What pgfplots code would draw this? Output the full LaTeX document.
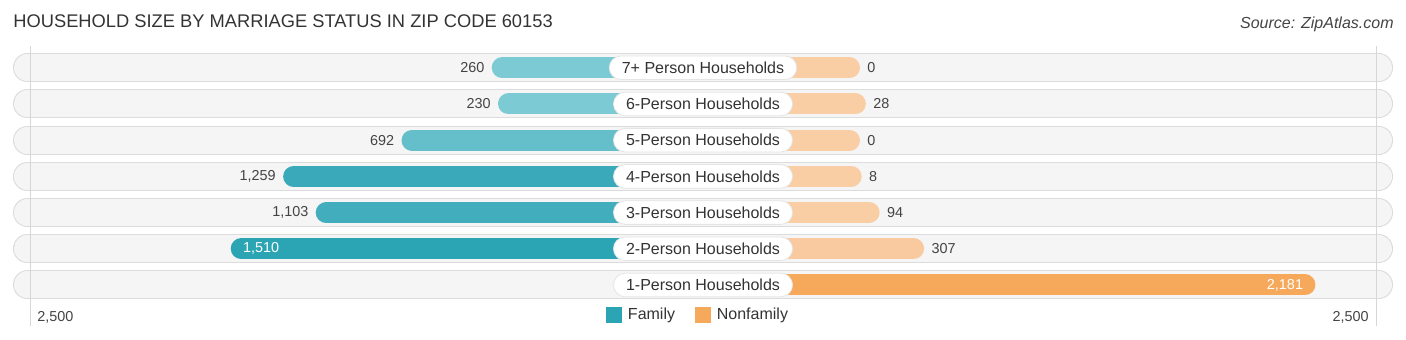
\documentclass[border=0pt]{standalone}
\usepackage{pgfplots}
\pgfplotsset{compat=1.18}
\usepackage{pgfplotstable}
\usepackage{fontspec}
\setmainfont{Liberation Sans}

\definecolor{fam0}{HTML}{7CCAD3}
\definecolor{fam1}{HTML}{7CCAD3}
\definecolor{fam2}{HTML}{64BFCA}
\definecolor{fam3}{HTML}{3AAABA}
\definecolor{fam4}{HTML}{42ADBC}
\definecolor{fam5}{HTML}{2BA4B4}
\definecolor{non0}{HTML}{F9CEA4}
\definecolor{non1}{HTML}{F9CEA4}
\definecolor{non2}{HTML}{F9CEA4}
\definecolor{non3}{HTML}{F9CEA4}
\definecolor{non4}{HTML}{F9CEA4}
\definecolor{non5}{HTML}{F9CAA0}
\definecolor{non6}{HTML}{F6A85B}
\definecolor{bgfill}{HTML}{F5F5F5}
\definecolor{bgedge}{HTML}{DCDCDC}
\definecolor{gridc}{HTML}{D6D6D6}
\definecolor{txt}{HTML}{333333}
\definecolor{vtxt}{HTML}{444444}

% i = row (0 = top), fam / nonfam = values
\pgfplotstableread{
i fam nonfam famlab nonlab
0 260 0 260 0
1 230 28 230 28
2 692 0 692 0
3 1259 8 1,259 8
4 1103 94 1,103 94
5 1510 307 1,510 307
6 0 2181 0 2,181
}\data

\begin{document}
\begin{tikzpicture}
\begin{axis}[
  scale only axis, width=703pt, height=170pt,
  xmin=-703, xmax=703, ymin=0, ymax=340, y dir=reverse,
  hide axis, clip=false,
  legend columns=2,
  legend style={at={(axis cs:-3,315)}, anchor=center, draw=none, fill=none,
    font=\fontsize{8}{9}\selectfont, text=txt,
    nodes={inner xsep=3.2pt, inner ysep=1.5pt},
    /tikz/every even column/.append style={column sep=6.5pt}},
  legend image code/.code={\fill[#1, draw=none] (0pt,-4pt) rectangle (8pt,4pt);},
]
\path (axis cs:-703,0) rectangle (axis cs:703,340);

% row backgrounds
\addplot[xcomb, draw=bgedge, line width=14.5pt, line cap=round, forget plot]
  table[x expr={-675.5}, y expr={67.8+36.2*\thisrow{i}}] {\data};
\addplot[xcomb, draw=bgedge, line width=14.5pt, line cap=round, forget plot]
  table[x expr={675.5}, y expr={67.8+36.2*\thisrow{i}}] {\data};
\addplot[xcomb, draw=bgfill, line width=13.5pt, line cap=round, forget plot]
  table[x expr={-675.5}, y expr={67.8+36.2*\thisrow{i}}] {\data};
\addplot[xcomb, draw=bgfill, line width=13.5pt, line cap=round, forget plot]
  table[x expr={675.5}, y expr={67.8+36.2*\thisrow{i}}] {\data};

% grid lines at +-2,500
\draw[gridc, line width=0.5pt] (axis cs:-673,46) -- (axis cs:-673,326);
\draw[gridc, line width=0.5pt] (axis cs:673,46) -- (axis cs:673,326);

% family bars
\pgfplotsinvokeforeach{0,...,5}{
  \addplot[xcomb, draw=fam#1, line width=10.5pt, line cap=round, forget plot,
    restrict expr to domain={\coordindex}{#1:#1}]
    table[x expr={-(146.5+0.2088*\thisrow{fam})}, y expr={67.8+36.2*\thisrow{i}}] {\data};
}
% nonfamily bars
\pgfplotsinvokeforeach{0,...,6}{
  \addplot[xcomb, draw=non#1, line width=10.5pt, line cap=round, forget plot,
    restrict expr to domain={\coordindex}{#1:#1}]
    table[x expr={146.5+0.2088*\thisrow{nonfam}}, y expr={67.8+36.2*\thisrow{i}}] {\data};
}

% value labels outside bars
\addplot[draw=none, forget plot, nodes near coords, point meta=explicit symbolic,
  every node near coord/.append style={anchor=east, inner sep=0pt, font=\fontsize{7.2}{8}\selectfont, text=vtxt},
  restrict expr to domain={\coordindex}{0:4}]
  table[x expr={-(164+0.2088*\thisrow{fam})}, y expr={67.8+36.2*\thisrow{i}}, meta=famlab] {\data};
\addplot[draw=none, forget plot, nodes near coords, point meta=explicit symbolic,
  every node near coord/.append style={anchor=west, inner sep=0pt, font=\fontsize{7.2}{8}\selectfont, text=vtxt},
  restrict expr to domain={\coordindex}{0:5}]
  table[x expr={164+0.2088*\thisrow{nonfam}}, y expr={67.8+36.2*\thisrow{i}}, meta=nonlab] {\data};
% value labels inside bars
\addplot[draw=none, forget plot, nodes near coords, point meta=explicit symbolic,
  every node near coord/.append style={anchor=west, inner sep=0pt, font=\fontsize{7.2}{8}\selectfont, text=white},
  restrict expr to domain={\coordindex}{5:5}]
  table[x expr={-(145+0.2088*\thisrow{fam})}, y expr={67.8+36.2*\thisrow{i}}, meta=famlab] {\data};
\addplot[draw=none, forget plot, nodes near coords, point meta=explicit symbolic,
  every node near coord/.append style={anchor=east, inner sep=0pt, font=\fontsize{7.2}{8}\selectfont, text=white},
  restrict expr to domain={\coordindex}{6:6}]
  table[x expr={145+0.2088*\thisrow{nonfam}}, y expr={67.8+36.2*\thisrow{i}}, meta=nonlab] {\data};

% category labels
\addplot[draw=none, forget plot, nodes near coords, point meta=explicit symbolic,
  every node near coord/.append style={anchor=center, fill=white, draw=black!10, line width=0.4pt,
    rounded corners=5.9pt, minimum height=11.8pt, inner xsep=6.3pt, inner ysep=0pt,
    font=\fontsize{8}{9}\selectfont, text=txt}]
  coordinates {
  (0,67.8) [7+ Person Households]
  (0,104.0) [6-Person Households]
  (0,140.2) [5-Person Households]
  (0,176.4) [4-Person Households]
  (0,212.6) [3-Person Households]
  (0,248.8) [2-Person Households]
  (0,285.0) [1-Person Households]
  };

% titles and axis end labels
\node[anchor=base west, inner sep=0pt, font=\fontsize{9.15}{11}\selectfont, text=txt]
  at (axis cs:-690,27.5) {HOUSEHOLD SIZE BY MARRIAGE STATUS IN ZIP CODE 60153};
\node[anchor=base east, inner sep=0pt, font=\fontsize{8}{10}\selectfont\itshape, text=vtxt]
  at (axis cs:691,29) {Source: ZipAtlas.com};
\node[anchor=base west, inner sep=0pt, font=\fontsize{7.2}{8}\selectfont, text=vtxt]
  at (axis cs:-666,321.5) {2,500};
\node[anchor=base east, inner sep=0pt, font=\fontsize{7.2}{8}\selectfont, text=vtxt]
  at (axis cs:666,321.5) {2,500};

\addlegendimage{fill=fam5}
\addlegendentry{Family}
\addlegendimage{fill=non6}
\addlegendentry{Nonfamily}
\end{axis}
\end{tikzpicture}
\end{document}
